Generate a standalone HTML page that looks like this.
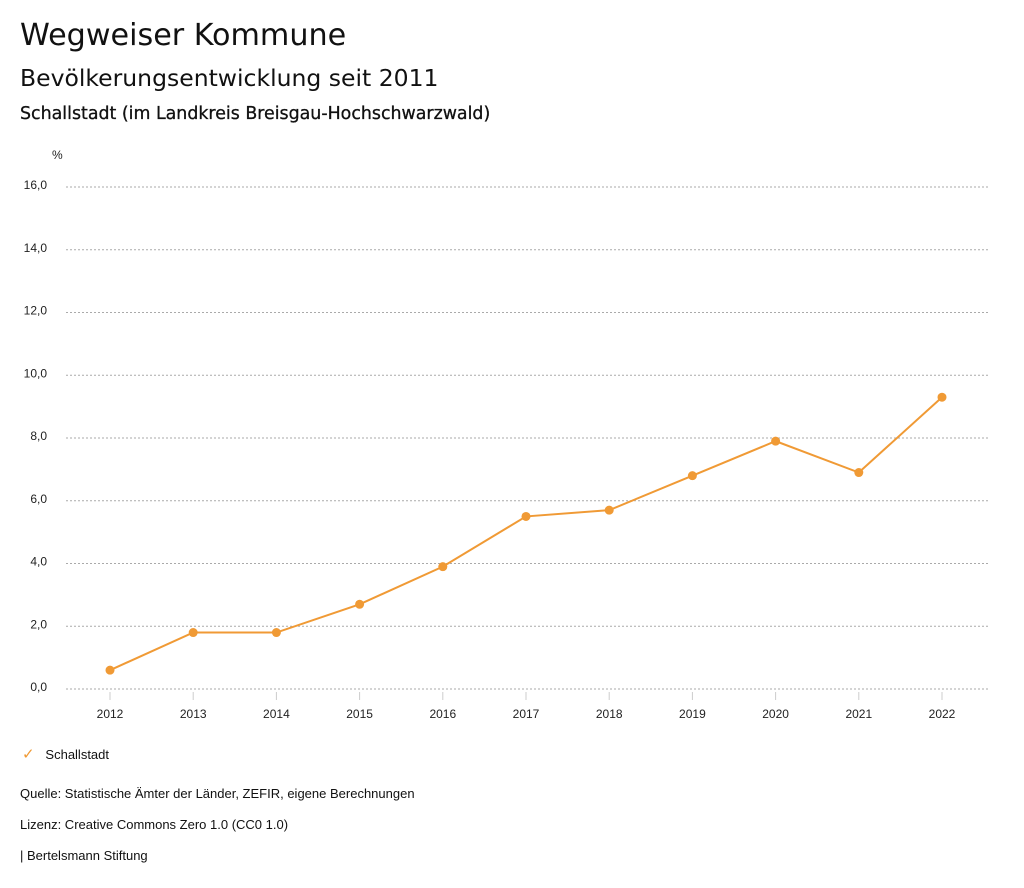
<!DOCTYPE html>
<html><head><meta charset="utf-8"><style>
body{margin:0;width:1024px;height:888px;background:#fff;font-family:"Liberation Sans",sans-serif;color:#111;overflow:hidden}
.t{position:absolute;white-space:nowrap}
</style></head><body>
<div class="t" style="left:20px;top:18px;font-size:30.2px;font-family:'DejaVu Sans',sans-serif">Wegweiser Kommune</div>
<div class="t" style="left:20px;top:64px;font-size:23.5px;font-family:'DejaVu Sans',sans-serif">Bevölkerungsentwicklung seit 2011</div>
<div class="t" style="left:20px;top:104px;font-size:17.4px;font-family:'DejaVu Sans',sans-serif;-webkit-text-stroke:0.3px #111">Schallstadt (im Landkreis Breisgau-Hochschwarzwald)</div>
<svg id="chart" width="1024" height="888" style="position:absolute;left:0;top:0" font-family="Liberation Sans, sans-serif"></svg>
<div class="t" style="left:22px;top:745px;font-size:13px"><span style="color:#f09a35;font-size:15px">✓</span>&nbsp;&nbsp;&nbsp;Schallstadt</div>
<div class="t" style="left:20px;top:786px;font-size:13px">Quelle: Statistische Ämter der Länder, ZEFIR, eigene Berechnungen</div>
<div class="t" style="left:20px;top:817px;font-size:13px">Lizenz: Creative Commons Zero 1.0 (CC0 1.0)</div>
<div class="t" style="left:20px;top:848px;font-size:13px">| Bertelsmann Stiftung</div>
<script>
const years=["2012","2013","2014","2015","2016","2017","2018","2019","2020","2021","2022"];
const values=[0.6,1.8,1.8,2.7,3.9,5.5,5.7,6.8,7.9,6.9,9.3];
const yTicks=[0,2,4,6,8,10,12,14,16];
const svg=document.getElementById('chart');
const NS='http://www.w3.org/2000/svg';
const x=i=>110+i*83.2;
const y=v=>689-v*31.375;
function mk(tag,attrs,txt){const e=document.createElementNS(NS,tag);for(const k in attrs)e.setAttribute(k,attrs[k]);if(txt!=null)e.textContent=txt;svg.appendChild(e);return e;}
let u=mk('text',{x:52,y:159,'font-size':12,fill:'#222'},'%');


yTicks.forEach(t=>{
  const g=mk('line',{x1:66,x2:990,y1:y(t),y2:y(t),stroke:'#aaa','stroke-dasharray':'2,2'});
  
  
  const l=mk('text',{x:47,y:y(t)+2,'text-anchor':'end','font-size':12,fill:'#222'},t.toFixed(1).replace('.',','));
  
  
});
years.forEach((yr,i)=>{
  const tk=mk('line',{x1:x(i),x2:x(i),y1:692,y2:700,stroke:'#ccc'});
  
  
  const l=mk('text',{x:x(i),y:718,'text-anchor':'middle','font-size':12,fill:'#222'},yr);
  
  
});
const pl=mk('polyline',{points:values.map((v,i)=>x(i)+','+y(v)).join(' '),fill:'none',stroke:'#f09a35','stroke-width':2});


values.forEach((v,i)=>{
  const c=mk('circle',{cx:x(i),cy:y(v),r:4.5,fill:'#f09a35'});
  
  
});
</script>
</body></html>
